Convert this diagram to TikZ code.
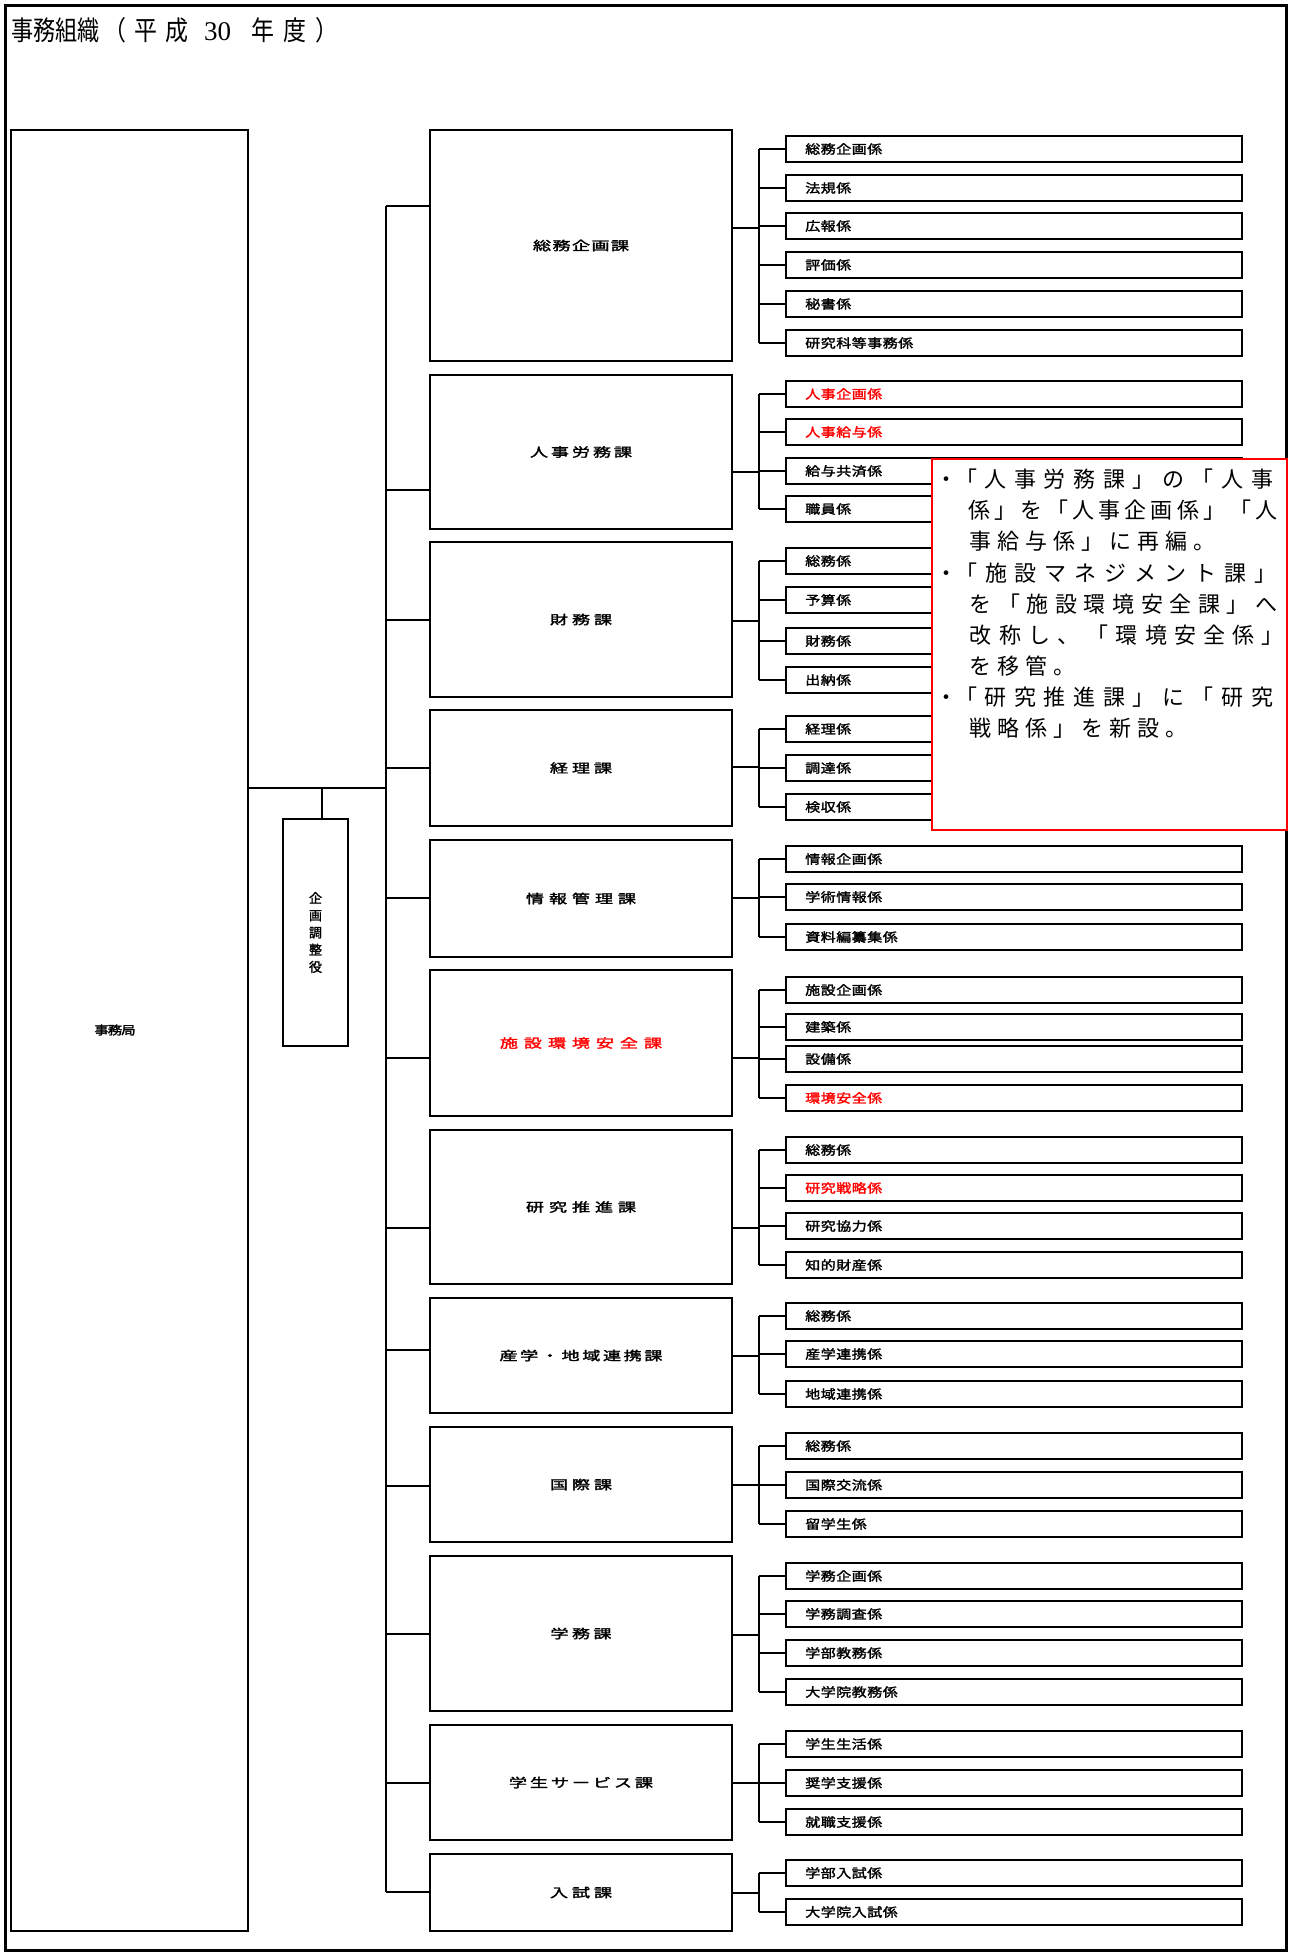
\documentclass[tikz,border=0pt]{standalone}
\usepackage{graphicx}
\usepackage{fontspec}
\setmainfont{Noto Sans CJK JP}
\newfontfamily\lblfont[FakeBold=1.8]{Noto Sans CJK JP}
\newfontfamily\serifnum{Liberation Serif}
\newlength\chpitch
\def\chscale{1}
\def\pitchchars#1{\ifx#1\relax\else\makebox[\chpitch][c]{\scalebox{\chscale}[1]{#1}}\expandafter\pitchchars\fi}
\newcommand\pitched[3][1]{\def\chscale{#1}\setlength\chpitch{#2}\pitchchars#3\relax}
\newcommand\bul{\makebox[9pt][c]{・}}
\begin{document}
\begin{tikzpicture}[x=1pt,y=-1pt,
 box/.style={draw=black, line width=2pt, inner sep=0pt, outer sep=0pt, fill=white},
 kabox/.style={box, minimum width=302pt, font=\lblfont\fontsize{12.5}{12.5}\selectfont},
 kkbox/.style={box, minimum width=456pt, minimum height=26pt, text width=418pt, align=left, font=\lblfont\fontsize{12.5}{12.5}\selectfont},
 conn/.style={line width=1.8pt},
 notetxt/.style={anchor=west, inner sep=0pt, font=\fontsize{22}{22}\selectfont}]
\newcommand\kakari[4][]{\node[kkbox,#1] (#2) at (1014,#3) {\pitched[1.2]{15.5pt}{#4}};}
\newcommand\kabu[6][]{\node[kabox,minimum height=#4pt,#1] (#2) at (581,#3) {\pitched[1.45]{#5pt}{#6}};}
\useasboundingbox (0,0) rectangle (1291,1955);
\fill[white] (0,0) rectangle (1291,1955);
\draw[line width=3pt] (5,5) rectangle (1286,1950);
% title
\node[anchor=west, inner sep=0pt, font=\fontsize{27}{27}\selectfont] (title) at (11,30)
 {\pitched[0.82]{22pt}{事務組織}\pitched[0.85]{31pt}{（平成}\hspace{12pt}{\serifnum 30}\hspace{16pt}\pitched[0.85]{32pt}{年度）}};
% left boxes
\node[box, minimum width=237pt, minimum height=1801pt] (jimu) at (129.5,1030.5) {};
\node[inner sep=0pt, font=\lblfont\fontsize{12}{12}\selectfont] (jimutxt) at (115,1030) {\pitched[1.2]{13.5pt}{事務局}};
\node[box, minimum width=65pt, minimum height=227pt, align=center, font=\lblfont\fontsize{13}{17.2}\selectfont] (kikaku) at (315.5,932.5) {企\\画\\調\\整\\役};
% ka boxes
\kabu{ka1}{245.5}{231}{19.5}{総務企画課}
\kabu{ka2}{452}{154}{21}{人事労務課}
\kabu{ka3}{619.5}{155}{22}{財務課}
\kabu{ka4}{768}{116}{22}{経理課}
\kabu{ka5}{898.5}{117}{23}{情報管理課}
\kabu[text=red]{ka6}{1043}{146}{24}{施設環境安全課}
\kabu{ka7}{1207}{154}{23}{研究推進課}
\kabu{ka8}{1355.5}{115}{20.7}{産学・地域連携課}
\kabu{ka9}{1484.5}{115}{22}{国際課}
\kabu{ka10}{1633.5}{155}{21.5}{学務課}
\kabu{ka11}{1782.5}{115}{21}{学生サービス課}
\kabu{ka12}{1892.5}{77}{22}{入試課}
% kakari boxes
\kakari{g1a}{149}{総務企画係}
\kakari{g1b}{188}{法規係}
\kakari{g1c}{226}{広報係}
\kakari{g1d}{265}{評価係}
\kakari{g1e}{304}{秘書係}
\kakari{g1f}{343}{研究科等事務係}
\kakari[text=red]{g2a}{394}{人事企画係}
\kakari[text=red]{g2b}{432}{人事給与係}
\kakari{g2c}{471}{給与共済係}
\kakari{g2d}{509}{職員係}
\kakari{g3a}{561}{総務係}
\kakari{g3b}{600}{予算係}
\kakari{g3c}{641}{財務係}
\kakari{g3d}{680}{出納係}
\kakari{g4a}{729}{経理係}
\kakari{g4b}{768}{調達係}
\kakari{g4c}{807}{検収係}
\kakari{g5a}{859}{情報企画係}
\kakari{g5b}{897}{学術情報係}
\kakari{g5c}{937}{資料編纂集係}
\kakari{g6a}{990}{施設企画係}
\kakari{g6b}{1027}{建築係}
\kakari{g6c}{1059}{設備係}
\kakari[text=red]{g6d}{1098}{環境安全係}
\kakari{g7a}{1150}{総務係}
\kakari[text=red]{g7b}{1188}{研究戦略係}
\kakari{g7c}{1226}{研究協力係}
\kakari{g7d}{1265}{知的財産係}
\kakari{g8a}{1316}{総務係}
\kakari{g8b}{1354}{産学連携係}
\kakari{g8c}{1394}{地域連携係}
\kakari{g9a}{1446}{総務係}
\kakari{g9b}{1485}{国際交流係}
\kakari{g9c}{1524}{留学生係}
\kakari{gAa}{1576}{学務企画係}
\kakari{gAb}{1614}{学務調査係}
\kakari{gAc}{1653}{学部教務係}
\kakari{gAd}{1692}{大学院教務係}
\kakari{gBa}{1744}{学生生活係}
\kakari{gBb}{1783}{奨学支援係}
\kakari{gBc}{1822}{就職支援係}
\kakari{gCa}{1873}{学部入試係}
\kakari{gCb}{1912}{大学院入試係}
% coordinates
\coordinate (jc) at (322,788);
\foreach \i/\y in {1/206,2/490,3/620,4/768,5/898,6/1058,7/1228,8/1350,9/1486,10/1634,11/1783,12/1892}
  \coordinate (l\i) at (386,\y);
\foreach \i/\y in {1/228,2/472,3/621,4/767,5/898,6/1058,7/1228,8/1356,9/1485,10/1635,11/1783,12/1893}
  \coordinate (r\i) at (759,\y);
% connectors
\draw[conn] (jimu.east |- jc) -- (l1 |- jc);
\draw[conn] (jc) -- (jc |- kikaku.north);
\draw[conn] (l1) -- (l12);
\foreach \i in {1,...,12} {
  \draw[conn] (l\i) -- (l\i -| ka\i.west);
  \draw[conn] (ka\i.east |- r\i) -- (r\i);
}
\foreach \a/\b/\r in {g1a/g1f/r1,g2a/g2d/r2,g3a/g3d/r3,g4a/g4c/r4,g5a/g5c/r5,g6a/g6d/r6,g7a/g7d/r7,g8a/g8c/r8,g9a/g9c/r9,gAa/gAd/r10,gBa/gBc/r11,gCa/gCb/r12}
  \draw[conn] (\a.west -| \r) -- (\b.west -| \r);
\foreach \n/\r in {g1a/r1,g1b/r1,g1c/r1,g1d/r1,g1e/r1,g1f/r1,g2a/r2,g2b/r2,g2c/r2,g2d/r2,g3a/r3,g3b/r3,g3c/r3,g3d/r3,g4a/r4,g4b/r4,g4c/r4,g5a/r5,g5b/r5,g5c/r5,g6a/r6,g6b/r6,g6c/r6,g6d/r6,g7a/r7,g7b/r7,g7c/r7,g7d/r7,g8a/r8,g8b/r8,g8c/r8,g9a/r9,g9b/r9,g9c/r9,gAa/r10,gAb/r10,gAc/r10,gAd/r10,gBa/r11,gBb/r11,gBc/r11,gCa/r12,gCb/r12}
  \draw[conn] (\n.west -| \r) -- (\n.west);
% note
\node[draw=red, line width=2pt, fill=white, inner sep=0pt, outer sep=0pt, minimum width=355pt, minimum height=371pt, anchor=north west] (note) at (932,459) {};
\node[notetxt] (n1) at (942,479) {\bul\pitched{29.6pt}{「人事労務課」の「人事}};
\node[notetxt] (n2) at (966,510) {\pitched{26.1pt}{係」を「人事企画係」「人}};
\node[notetxt] (n3) at (966,541) {\pitched{28pt}{事給与係」に再編。}};
\node[notetxt] (n4) at (942,573) {\bul\pitched{29.9pt}{「施設マネジメント課」}};
\node[notetxt] (n5) at (966,604) {\pitched{28.6pt}{を「施設環境安全課」へ}};
\node[notetxt] (n6) at (966,635) {\pitched{29.2pt}{改称し、「環境安全係」}};
\node[notetxt] (n7) at (966,666) {\pitched{28pt}{を移管。}};
\node[notetxt] (n8) at (942,697) {\bul\pitched{29.6pt}{「研究推進課」に「研究}};
\node[notetxt] (n9) at (966,728) {\pitched{28pt}{戦略係」を新設。}};
\end{tikzpicture}
\end{document}
